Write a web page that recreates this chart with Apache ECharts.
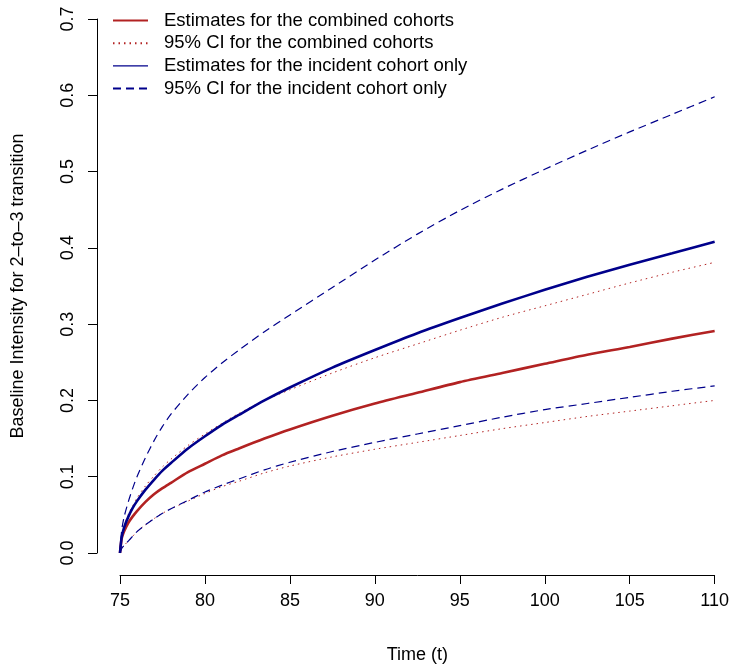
<!DOCTYPE html>
<html>
<head>
<meta charset="utf-8">
<script src="https://cdn.jsdelivr.net/npm/echarts@6/dist/echarts.min.js"></script>
<style>
html,body{margin:0;padding:0;background:#fff;}
#chart{width:732px;height:669px;}
</style>
</head>
<body>
<div id="chart"></div>
<script>
const times = [75, 75.1, 75.25, 75.5, 75.75, 76, 76.5, 77, 77.5, 78, 79, 80, 81, 82, 83.5, 85, 87.5, 90, 92.5, 95, 97.5, 100, 102.5, 105, 107.5, 110];
const combinedEst = [0, 0.019, 0.029, 0.040, 0.048, 0.055, 0.067, 0.077, 0.085, 0.092, 0.106, 0.117, 0.128, 0.137, 0.150, 0.162, 0.180, 0.196, 0.210, 0.224, 0.236, 0.248, 0.260, 0.270, 0.281, 0.291];
const combinedLower = [0, 0.006, 0.010, 0.016, 0.022, 0.028, 0.037, 0.045, 0.052, 0.058, 0.068, 0.078, 0.087, 0.094, 0.105, 0.114, 0.126, 0.136, 0.145, 0.154, 0.163, 0.171, 0.179, 0.186, 0.193, 0.200];
const combinedUpper = [0, 0.023, 0.036, 0.051, 0.062, 0.072, 0.088, 0.101, 0.113, 0.123, 0.141, 0.156, 0.170, 0.183, 0.200, 0.214, 0.236, 0.256, 0.274, 0.292, 0.309, 0.324, 0.339, 0.354, 0.368, 0.381];
const incidentEst = [0, 0.021, 0.034, 0.048, 0.059, 0.068, 0.083, 0.096, 0.108, 0.118, 0.137, 0.153, 0.168, 0.181, 0.200, 0.217, 0.243, 0.266, 0.288, 0.308, 0.327, 0.345, 0.362, 0.378, 0.393, 0.408];
const incidentLower = [0, 0.006, 0.010, 0.016, 0.022, 0.028, 0.037, 0.045, 0.052, 0.058, 0.069, 0.080, 0.089, 0.097, 0.109, 0.119, 0.133, 0.145, 0.156, 0.167, 0.178, 0.188, 0.196, 0.204, 0.212, 0.219];
const incidentUpper = [0, 0.030, 0.048, 0.068, 0.085, 0.100, 0.125, 0.147, 0.166, 0.182, 0.208, 0.230, 0.249, 0.266, 0.290, 0.312, 0.348, 0.384, 0.418, 0.449, 0.477, 0.503, 0.528, 0.552, 0.575, 0.598];

const xTicks = [75, 80, 85, 90, 95, 100, 105, 110];
const yTicks = [0.0, 0.1, 0.2, 0.3, 0.4, 0.5, 0.6, 0.7];

const legendNames = [
  'Estimates for the combined cohorts',
  '95% CI for the combined cohorts',
  'Estimates for the incident cohort only',
  '95% CI for the incident cohort only'
];
const xName = 'Time (t)';
const yName = 'Baseline Intensity for 2\u2013to\u20133 transition';

const RED = '#B22222';
const BLUE = '#00008B';
const FONT = '"Liberation Sans", Arial, Helvetica, sans-serif';

function pairs(vals){ return times.map((t,i)=>[t, vals[i]]); }

const chart = echarts.init(document.getElementById('chart'), null, {renderer:'canvas'});

function lineSeries(name, vals, color, width, type, z){
  return {
    name: name, type: 'line', data: pairs(vals),
    showSymbol: false, symbol: 'none', smooth: 0.25,
    lineStyle: {color: color, width: width, type: type},
    itemStyle: {color: color},
    z: z, silent: true
  };
}

const option = {
  animation: false,
  backgroundColor: '#ffffff',
  textStyle: {fontFamily: FONT},
  grid: {left: 120, right: 16, top: 19, bottom: 116, containLabel: false},
  legend: {
    orient: 'vertical', left: 112, top: 11, padding: 0,
    itemWidth: 35, itemHeight: 12, itemGap: 3.7,
    itemStyle: {opacity: 0, borderWidth: 0},
    textStyle: {fontSize: 18.5, color: '#000', fontFamily: FONT, lineHeight: 18, padding: [0,0,0,11]},
    data: [
      {name: legendNames[0]},
      {name: legendNames[1]},
      {name: legendNames[2], lineStyle: {width: 1.2}},
      {name: legendNames[3]}
    ]
  },
  xAxis: {
    type: 'value', min: xTicks[0], max: xTicks[xTicks.length-1], interval: 5,
    offset: 22,
    splitLine: {show: false},
    axisLine: {show: true, onZero: false, lineStyle: {color: '#000', width: 1}},
    axisTick: {show: true, length: 9, lineStyle: {color: '#000', width: 1}},
    axisLabel: {fontSize: 18, color: '#000', fontFamily: FONT, margin: 17},
    name: xName, nameLocation: 'middle', nameGap: 71,
    nameTextStyle: {fontSize: 18, color: '#000', fontFamily: FONT}
  },
  yAxis: {
    type: 'value', min: yTicks[0], max: yTicks[yTicks.length-1], interval: 0.1,
    offset: 23,
    splitLine: {show: false},
    axisLine: {show: true, onZero: false, lineStyle: {color: '#000', width: 1}},
    axisTick: {show: true, length: 9, lineStyle: {color: '#000', width: 1}},
    axisLabel: {fontSize: 18, color: '#000', fontFamily: FONT, margin: 20, rotate: 90,
      formatter: v => v.toFixed(1)},
    name: yName, nameLocation: 'middle', nameGap: 70, nameRotate: 90,
    nameTextStyle: {fontSize: 18, color: '#000', fontFamily: FONT}
  },
  series: [
    lineSeries(legendNames[0], combinedEst, RED, 2.6, 'solid', 2),
    lineSeries(legendNames[1], combinedUpper, RED, 1, [1.5, 4], 2),
    lineSeries(legendNames[1], combinedLower, RED, 1, [1.5, 4], 2),
    lineSeries(legendNames[2], incidentEst, BLUE, 2.6, 'solid', 3),
    lineSeries(legendNames[3], incidentUpper, BLUE, 1.2, [8, 5], 3),
    lineSeries(legendNames[3], incidentLower, BLUE, 1.2, [8, 5], 3)
  ]
};
chart.setOption(option);
</script>
</body>
</html>
